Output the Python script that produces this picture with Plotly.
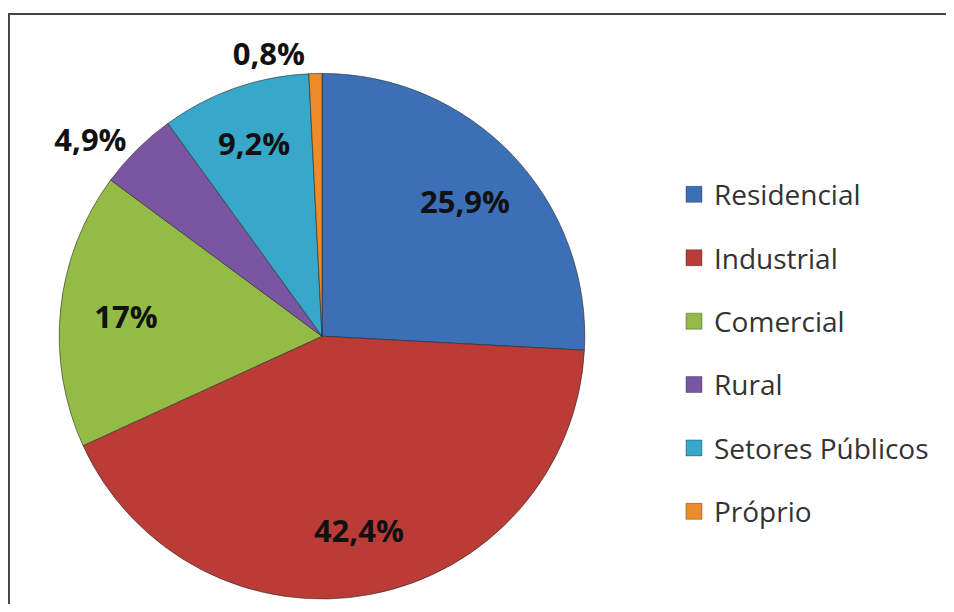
"""Pie chart: consumo de energia por classe."""

import plotly.graph_objects as go

categories = ["Residencial", "Industrial", "Comercial", "Rural", "Setores Públicos", "Próprio"]
shares = [25.9, 42.4, 17.0, 4.9, 9.2, 0.8]
colors = ["#3b6fb6", "#bb3b37", "#94bb45", "#7a56a2", "#37a8c9", "#ee8b2b"]
text_positions = ["inside", "inside", "inside", "outside", "inside", "outside"]


def pt_label(v):
    s = f"{v:.1f}".replace(".", ",")
    if s.endswith(",0"):
        s = s[:-2]
    return s + "%"


labels_text = [pt_label(v) for v in shares]
pie_domain = {"x": [0.0522, 0.6173], "y": [0.0, 0.8893]}

fig = go.Figure()

fig.add_trace(go.Pie(
    labels=categories,
    values=shares,
    text=labels_text,
    textinfo="none",
    sort=False,
    direction="clockwise",
    rotation=0,
    marker={"colors": colors, "line": {"color": "rgba(40,40,40,0.6)", "width": 1}},
    domain=pie_domain,
    showlegend=False,
    hoverinfo="label+text",
))

# transparent ring on top only carries the labels, so they sit out
# towards the rim like in the original
fig.add_trace(go.Pie(
    labels=categories,
    values=shares,
    text=labels_text,
    textinfo="text",
    textposition=text_positions,
    insidetextorientation="horizontal",
    sort=False,
    direction="clockwise",
    rotation=0,
    hole=0.5,
    marker={"colors": ["rgba(0,0,0,0)"] * len(shares), "line": {"width": 0}},
    textfont={"family": "Open Sans", "size": 31, "color": "#111111", "weight": "bold"},
    domain=pie_domain,
    showlegend=False,
    hoverinfo="skip",
))

# legend entries, one group each so the spacing can be opened up
for name, color in zip(categories, colors):
    fig.add_trace(go.Scatter(
        x=[None], y=[None],
        mode="markers",
        name=name,
        legendgroup=name,
        marker={"symbol": "square", "size": 16, "color": color,
                "line": {"color": "rgba(0,0,0,0.3)", "width": 1}},
    ))

# the page body adds 8px around the plot, so the figure is 16px smaller
fig.update_layout(
    width=938,
    height=596,
    paper_bgcolor="white",
    plot_bgcolor="white",
    margin={"t": 0, "b": 0, "l": 0, "r": 0},
    xaxis={"visible": False},
    yaxis={"visible": False},
    legend={
        "x": 0.710, "y": 0.416, "xanchor": "left", "yanchor": "middle",
        "font": {"family": "Open Sans", "size": 28, "color": "#333333"},
        "tracegroupgap": 24,
        "itemwidth": 30,
    },
    shapes=[{
        "type": "rect", "xref": "paper", "yref": "paper",
        "x0": 0.001, "x1": 1.05, "y0": -0.05, "y1": 0.99,
        "line": {"color": "#444444", "width": 2},
    }],
)

fig.write_html("out.html")
